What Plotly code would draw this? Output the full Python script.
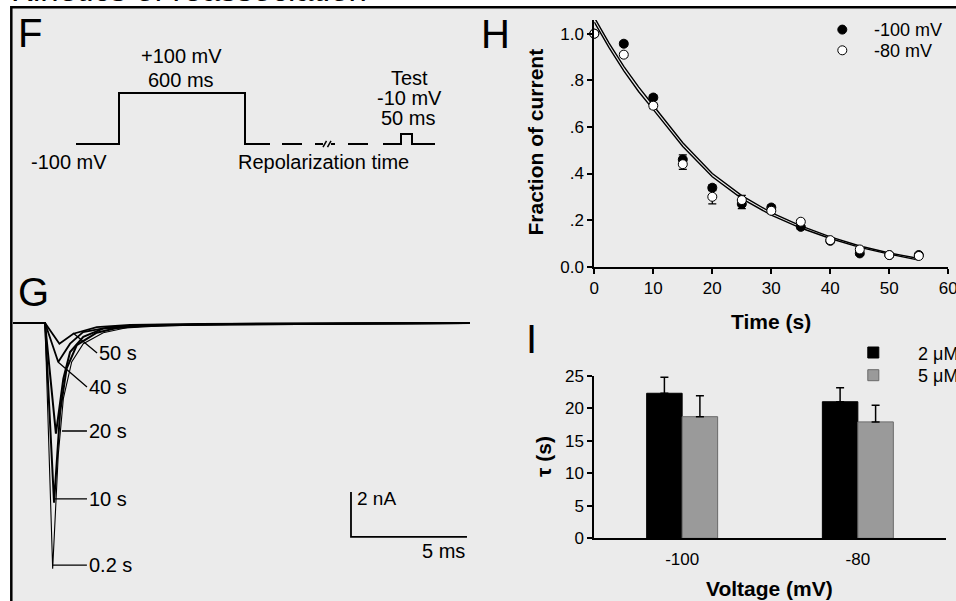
import plotly.graph_objects as go

W, H = 956, 601
FONT = "Liberation Sans, Arial, Helvetica, sans-serif"
BG = "#ebebeb"


def px(x):
    return x / W


def py(y):
    return 1 - y / H


# ---------------- Panel F : voltage protocol (schematic) ----------------
proto_x = [76, 119, 119, 245, 245, 270, None, 282, 302, None, 315, 323, None,
           331, 335, None, 348, 368, None, 383, 401, 401, 412, 412, 435]
proto_level = [0, 0, 1, 1, 0, 0, None, 0, 0, None, 0, 0, None,
               0, 0, None, 0, 0, None, 0, 0, 0.196, 0.196, 0, 0]
break_x = [323, 326.5, None, 327.5, 331]
break_level = [-0.06, 0.06, None, -0.06, 0.06]
f_text = ["+100 mV", "600 ms", "-100 mV", "Repolarization time", "Test", "-10 mV", "50 ms"]
f_text_x = [181, 181, 69, 323, 409, 409, 408]
f_text_level = [1.73, 1.255, -0.353, -0.353, 1.29, 0.9, 0.51]

# ---------------- Panel G : current traces (ms, nA) ----------------
g_names = ["0.2 s", "10 s", "20 s", "40 s", "50 s"]
g_t = {
    "0.2 s": [0, 1.38, 1.71, 1.95, 2.17, 2.53, 3.03, 3.89, 5.04, 7.2, 10.2, 19.7],
    "10 s": [0, 1.38, 1.77, 2.03, 2.31, 2.75, 3.61, 4.47, 6.34, 9.35, 19.7],
    "20 s": [0, 1.38, 1.85, 2.17, 2.46, 3.03, 3.88, 5.47, 8.06, 19.7],
    "40 s": [0, 1.38, 1.95, 2.46, 3.02, 4.18, 5.9, 19.7],
    "50 s": [0, 1.38, 2.0, 2.6, 3.61, 5.04, 8.06, 19.7],
}
g_i = {
    "0.2 s": [0, 0, -10.92, -5.87, -3.36, -1.73, -0.92, -0.43, -0.18, -0.09, -0.04, 0],
    "10 s": [0, 0, -7.99, -3.96, -2.03, -0.98, -0.43, -0.22, -0.11, -0.04, 0],
    "20 s": [0, 0, -4.92, -2.48, -1.29, -0.62, -0.25, -0.13, -0.07, 0],
    "40 s": [0, 0, -1.73, -0.92, -0.40, -0.18, -0.09, 0],
    "50 s": [0, 0, -0.92, -0.476, -0.18, -0.09, -0.04, 0],
}
g_width = {"0.2 s": 1.1, "10 s": 2.0, "20 s": 2.0, "40 s": 1.8, "50 s": 1.8}
# label pointer targets on the traces (ms, nA)
g_label_t = [1.72, 1.81, 2.11, 1.94, 2.59]
g_label_i = [-10.76, -7.82, -4.8, -1.73, -0.44]
g_label_dx = [34, 32, 25, 29, 24]
g_label_dy = [0, 0, 0, 25, 20]
# scale bar
sb_t0, sb_i0 = 14.57, -9.51
sb_len_ms, sb_len_na = 5, 2

# ---------------- Panel H : fraction of current ----------------
h_time = [0, 5, 10, 15, 20, 25, 30, 35, 40, 45, 50, 55]
h_m100 = [1.0, 0.957, 0.726, 0.46, 0.339, 0.269, 0.254, 0.171, 0.111, 0.057, 0.05, 0.05]
h_m100_err = [0, 0.01, 0.01, 0.02, 0.012, 0.02, 0.01, 0.01, 0.008, 0.008, 0.005, 0.008]
h_m80 = [1.0, 0.91, 0.691, 0.44, 0.30, 0.286, 0.24, 0.193, 0.114, 0.074, 0.05, 0.046]
h_m80_err = [0, 0.01, 0.012, 0.022, 0.03, 0.02, 0.012, 0.01, 0.008, 0.008, 0.005, 0.008]
fit_t = [0, 2.5, 5, 7.5, 10, 15, 20, 25, 30, 35, 40, 45, 50, 55]
fit_a = [1.07, 0.96, 0.86, 0.772, 0.692, 0.532, 0.40, 0.305, 0.232, 0.175, 0.128, 0.089, 0.059, 0.035]
fit_b = [1.05, 0.94, 0.84, 0.752, 0.674, 0.516, 0.386, 0.292, 0.221, 0.166, 0.121, 0.083, 0.054, 0.028]
h_xticks = [0, 10, 20, 30, 40, 50, 60]
h_yticks = [0, 0.2, 0.4, 0.6, 0.8, 1.0]
h_yticktext = ["0.0", ".2", ".4", ".6", ".8", "1.0"]

# ---------------- Panel I : tau ----------------
i_voltage = ["-100", "-80"]
i_tau_2 = [22.3, 21.0]
i_tau_2_err = [2.45, 2.15]
i_tau_5 = [18.7, 17.9]
i_tau_5_err = [3.2, 2.55]
i_yticks = [0, 5, 10, 15, 20, 25]

fig = go.Figure()

# F
fig.add_trace(go.Scatter(x=proto_x, y=proto_level, mode="lines", xaxis="x", yaxis="y",
                         line=dict(color="black", width=2), showlegend=False, hoverinfo="skip"))
fig.add_trace(go.Scatter(x=break_x, y=break_level, mode="lines", xaxis="x", yaxis="y",
                         line=dict(color="black", width=1.5), showlegend=False, hoverinfo="skip"))

# G
for name in g_names:
    fig.add_trace(go.Scatter(x=g_t[name], y=g_i[name], mode="lines", xaxis="x2", yaxis="y2",
                             line=dict(color="black", width=g_width[name]), name=name,
                             showlegend=False, hoverinfo="skip"))
fig.add_trace(go.Scatter(x=[sb_t0, sb_t0, sb_t0 + sb_len_ms],
                         y=[sb_i0 + sb_len_na, sb_i0, sb_i0], mode="lines",
                         xaxis="x2", yaxis="y2", line=dict(color="black", width=1.8),
                         showlegend=False, hoverinfo="skip"))

# H
fig.add_trace(go.Scatter(x=fit_t, y=fit_a, mode="lines", xaxis="x3", yaxis="y3",
                         line=dict(color="black", width=1.4), showlegend=False))
fig.add_trace(go.Scatter(x=fit_t, y=fit_b, mode="lines", xaxis="x3", yaxis="y3",
                         line=dict(color="black", width=1.4), showlegend=False))
fig.add_trace(go.Scatter(x=h_time, y=h_m100, mode="markers", xaxis="x3", yaxis="y3", name="-100 mV",
                         marker=dict(symbol="circle", size=9, color="black", line=dict(color="black", width=1)),
                         error_y=dict(type="data", array=h_m100_err, color="black", thickness=1.3, width=4),
                         cliponaxis=False, showlegend=False))
fig.add_trace(go.Scatter(x=h_time, y=h_m80, mode="markers", xaxis="x3", yaxis="y3", name="-80 mV",
                         marker=dict(symbol="circle", size=9, color="white", line=dict(color="black", width=1)),
                         error_y=dict(type="data", array=h_m80_err, color="black", thickness=1.3, width=4),
                         cliponaxis=False, showlegend=False))

# I
fig.add_trace(go.Bar(x=i_voltage, y=i_tau_2, xaxis="x4", yaxis="y4", name="2 μM",
                     marker=dict(color="black", line=dict(color="black", width=1)),
                     error_y=dict(type="data", array=i_tau_2_err, arrayminus=[0, 0], symmetric=False,
                                  color="black", thickness=1.5, width=4), showlegend=False))
fig.add_trace(go.Bar(x=i_voltage, y=i_tau_5, xaxis="x4", yaxis="y4", name="5 μM",
                     marker=dict(color="#9a9a9a", line=dict(color="#6a6a6a", width=1)),
                     error_y=dict(type="data", array=i_tau_5_err, arrayminus=[0, 0], symmetric=False,
                                  color="black", thickness=1.5, width=4), showlegend=False))

# legend keys on a page-pixel axis
key_x = [842.3, 842.3, 873.3, 873.3]
key_y = [29.6, 50.3, 352.5, 375.2]
key_symbol = ["circle", "circle", "square", "square"]
key_size = [9, 9, 11, 11]
key_fill = ["black", "white", "black", "#9a9a9a"]
key_edge = ["black", "black", "black", "#6a6a6a"]
for kx, ky, ks, kz, kf, ke in zip(key_x, key_y, key_symbol, key_size, key_fill, key_edge):
    fig.add_trace(go.Scatter(x=[kx], y=[ky], mode="markers", xaxis="x5", yaxis="y5",
                             marker=dict(symbol=ks, size=kz, color=kf, line=dict(color=ke, width=1)),
                             cliponaxis=False, showlegend=False, hoverinfo="skip"))

annotations = []


def txt(text, x, y, size=20, bold=False, xanchor="center", yanchor="middle", xref="paper", yref="paper", angle=0):
    annotations.append(dict(text=("<b>%s</b>" % text) if bold else text, x=x, y=y, xref=xref, yref=yref,
                            showarrow=False, xanchor=xanchor, yanchor=yanchor, textangle=angle,
                            font=dict(family=FONT, size=size, color="black")))


# title (cut off at the top of the page)
txt("Kinetics of reassociation", px(9), py(10.5), size=33, xanchor="left", yanchor="bottom")
# panel letters
txt("F", px(16), py(33.5), size=40, xanchor="left")
txt("G", px(16), py(292), size=40, xanchor="left")
txt("H", px(479), py(34), size=40, xanchor="left")
txt("I", px(524), py(339), size=40, xanchor="left")

# F labels
for t, xx, lv in zip(f_text, f_text_x, f_text_level):
    txt(t, xx, lv, size=20, xref="x", yref="y")

# G labels with pointer lines
for name, t, i, dx, dy in zip(g_names, g_label_t, g_label_i, g_label_dx, g_label_dy):
    annotations.append(dict(text=name, x=t, y=i, xref="x2", yref="y2", showarrow=True, arrowhead=0,
                            arrowwidth=1.3, arrowcolor="black", ax=dx, ay=dy, standoff=0,
                            xanchor="left", yanchor="middle",
                            font=dict(family=FONT, size=20, color="black")))
txt("2 nA", sb_t0 + 0.18, sb_i0 + 1.69, size=19, xanchor="left", xref="x2", yref="y2")
txt("5 ms", sb_t0 + sb_len_ms, sb_i0 - 0.62, size=20, xanchor="right", xref="x2", yref="y2")

# axis titles
txt("Fraction of current", px(535), py(142.5), size=21, bold=True, angle=-90)
txt("Time (s)", px(771), py(321), size=21, bold=True)
txt("τ (s)", px(543), py(457), size=21, bold=True, angle=-90)
txt("Voltage (mV)", px(769), py(588), size=21, bold=True)

# legend labels
txt("-100 mV", px(872), py(30.5), size=18, xanchor="left")
txt("-80 mV", px(872), py(50.5), size=18, xanchor="left")
txt("2 μM", px(915.5), py(353.8), size=18, xanchor="left")
txt("5 μM", px(915.5), py(376.3), size=18, xanchor="left")

axis_common = dict(showline=True, linecolor="black", linewidth=2, ticks="outside", ticklen=5,
                   tickwidth=1.5, tickcolor="black", showgrid=False, zeroline=False,
                   ticklabeloverflow="allow",
                   tickfont=dict(family=FONT, size=17, color="black"))

fig.update_layout(
    width=W, height=H, margin=dict(l=0, r=0, t=0, b=0, autoexpand=False),
    paper_bgcolor="white", plot_bgcolor="rgba(0,0,0,0)",
    font=dict(family=FONT, color="black"),
    barmode="group", bargap=0.596, bargroupgap=0,
    xaxis=dict(domain=[px(60), px(460)], range=[60, 460], visible=False, anchor="y"),
    yaxis=dict(domain=[py(175), py(40)], range=[-0.608, 2.039], visible=False, anchor="x"),
    xaxis2=dict(domain=[px(13), px(470)], range=[0, 19.7], visible=False, anchor="y2"),
    yaxis2=dict(domain=[py(590), py(300)], range=[-11.867, 1.022], visible=False, anchor="x2"),
    xaxis3=dict(domain=[px(594.3), px(948.3)], range=[0, 60], tickvals=h_xticks, anchor="y3", **axis_common),
    yaxis3=dict(domain=[py(266.7), py(20)], range=[0, 1.0588], tickvals=h_yticks, ticktext=h_yticktext,
                anchor="x3", **axis_common),
    xaxis4=dict(domain=[px(594.3), px(945.7)], range=[-0.5, 1.5], type="category", anchor="y4",
                ticklabelstandoff=4, **{**axis_common, "ticks": ""}),
    yaxis4=dict(domain=[py(538.3), py(375.7)], range=[0, 25], tickvals=i_yticks, anchor="x4", **axis_common),
    xaxis5=dict(domain=[0, 1], range=[0, W], visible=False, anchor="y5"),
    yaxis5=dict(domain=[0, 1], range=[H, 0], visible=False, anchor="x5"),
    annotations=annotations,
    shapes=[dict(type="rect", xref="paper", yref="paper", x0=px(11.3), x1=1.05, y0=-0.05, y1=py(7.2),
                 fillcolor=BG, line=dict(color="black", width=2.5), layer="below")],
)

fig.write_html("out.html", config={"displayModeBar": False})
